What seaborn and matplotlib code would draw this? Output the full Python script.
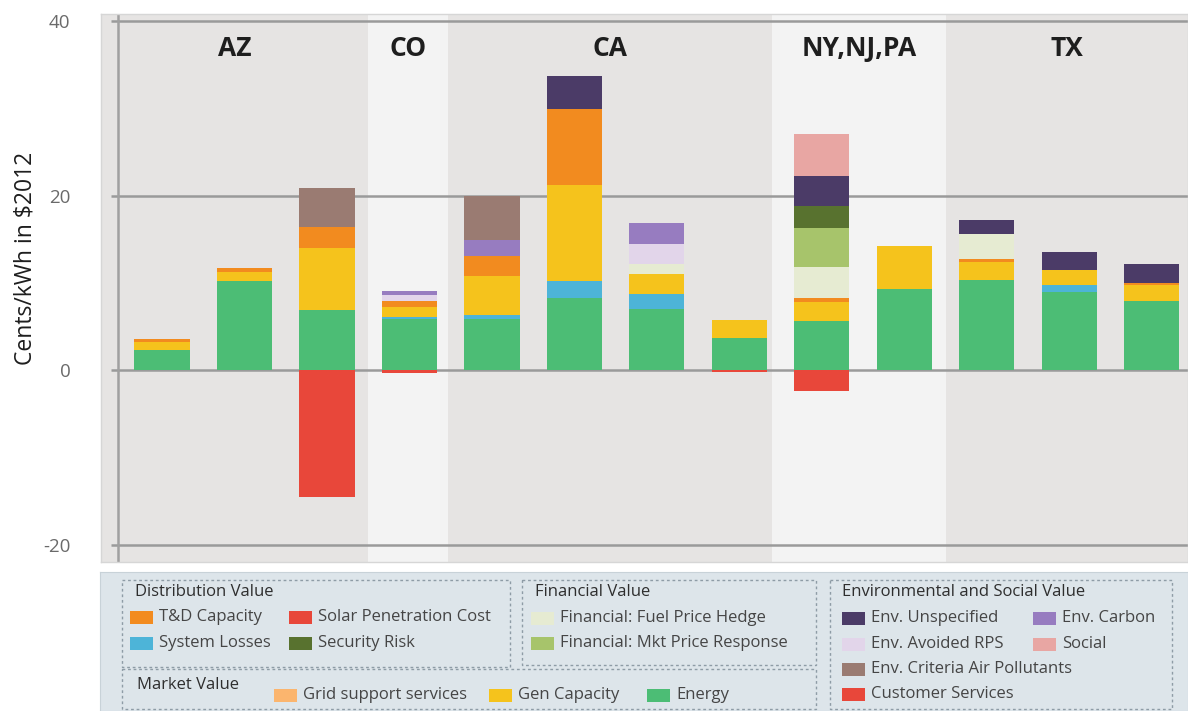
import numpy as np
import pandas as pd
import matplotlib
matplotlib.use("Agg")
import matplotlib.pyplot as plt
from matplotlib.patches import Rectangle
import seaborn as sns

# bars (one per study), grouped by state
bars = ["AZ 1", "AZ 2", "AZ 3", "CO 1", "CA 1", "CA 2", "CA 3", "CA 4",
        "NY 1", "NY 2", "TX 1", "TX 2", "TX 3"]
states = ["AZ", "CO", "CA", "NY,NJ,PA", "TX"]

# value components, cents/kWh ($2012)
energy       = [2.4, 10.2, 6.95, 5.85, 5.85, 8.3, 7.05, 3.75, 5.7, 9.35, 10.4, 8.95, 7.95]
system_loss  = [0, 0, 0, 0.25, 0.45, 1.9, 1.75, 0, 0, 0, 0, 0.9, 0]
gen_capacity = [0.9, 1.1, 7.05, 1.15, 4.5, 11.1, 2.3, 2.0, 2.2, 4.95, 2.0, 1.7, 1.8]
grid_support = [0, 0, 0, 0, 0, 0, 0, 0, 0, 0, 0, 0, 0]
td_capacity  = [0.35, 0.4, 2.4, 0.7, 2.35, 8.7, 0, 0, 0.4, 0, 0.4, 0, 0.25]
fuel_hedge   = [0, 0, 0, 0, 0, 0, 1.05, 0, 3.6, 0, 2.8, 0, 0]
mkt_price    = [0, 0, 0, 0, 0, 0, 0, 0, 4.4, 0, 0, 0, 0]
security     = [0, 0, 0, 0, 0, 0, 0, 0, 2.55, 0, 0, 0, 0]
avoided_rps  = [0, 0, 0, 0.65, 0, 0, 2.3, 0, 0, 0, 0, 0, 0]
carbon       = [0, 0, 0, 0.55, 1.85, 0, 2.4, 0, 0, 0, 0, 0, 0]
criteria     = [0, 0, 4.5, 0, 4.95, 0, 0, 0, 0, 0, 0, 0, 0]
unspecified  = [0, 0, 0, 0, 0, 3.8, 0, 0, 3.45, 0, 1.6, 2.0, 2.15]
social       = [0, 0, 0, 0, 0, 0, 0, 0, 4.8, 0, 0, 0, 0]
solar_pen    = [0, 0, -14.55, -0.25, 0, 0, 0, -0.2, 0, 0, 0, 0, 0]
customer     = [0, 0, 0, 0, 0, 0, 0, 0, -2.3, 0, 0, 0, 0]

colors = {
    "Energy": "#4cbd75",
    "System Losses": "#4db4d8",
    "Gen Capacity": "#f5c31c",
    "Grid support services": "#fbb56e",
    "T&D Capacity": "#f28b1f",
    "Financial: Fuel Price Hedge": "#e6ebd2",
    "Financial: Mkt Price Response": "#a7c46b",
    "Security Risk": "#58722f",
    "Env. Avoided RPS": "#e2d5ea",
    "Env. Carbon": "#977cc0",
    "Env. Criteria Air Pollutants": "#9a7b72",
    "Env. Unspecified": "#4b3b67",
    "Social": "#e8a6a3",
    "Solar Penetration Cost": "#e8473a",
    "Customer Services": "#e8473a",
}

df = pd.DataFrame({
    "bar": bars,
    "Energy": energy, "System Losses": system_loss, "Gen Capacity": gen_capacity,
    "Grid support services": grid_support, "T&D Capacity": td_capacity,
    "Financial: Fuel Price Hedge": fuel_hedge, "Financial: Mkt Price Response": mkt_price,
    "Security Risk": security, "Env. Avoided RPS": avoided_rps, "Env. Carbon": carbon,
    "Env. Criteria Air Pollutants": criteria, "Env. Unspecified": unspecified,
    "Social": social, "Solar Penetration Cost": solar_pen, "Customer Services": customer,
})

pos_stack = ["Energy", "System Losses", "Gen Capacity", "Grid support services",
             "T&D Capacity", "Financial: Fuel Price Hedge", "Financial: Mkt Price Response",
             "Security Risk", "Env. Avoided RPS", "Env. Carbon",
             "Env. Criteria Air Pollutants", "Env. Unspecified", "Social"]
neg_stack = ["Solar Penetration Cost", "Customer Services"]

sns.set_style("white")
plt.rcParams["font.family"] = ["Open Sans", "DejaVu Sans"]

fig = plt.figure(figsize=(11.88, 7.11), dpi=100)
ax = fig.add_axes([101 / 1188, 1 - 562 / 711, 1087 / 1188, 548 / 711])

# state background bands
edges = [-0.74, 2.5, 3.47, 7.4, 9.5, 12.44]
band_cols = ["#e6e4e3", "#f3f3f3", "#e6e4e3", "#f3f3f3", "#e6e4e3"]
for i, st in enumerate(states):
    ax.axvspan(edges[i], edges[i + 1], color=band_cols[i], zorder=0, lw=0)
    ax.text((edges[i] + edges[i + 1]) / 2, 36.9, st, ha="center", va="center",
            fontsize=19, fontweight="bold", color="#1e1e1e")

# grid lines and axis line
yt = [-20, 0, 20, 40]
ax.hlines(yt, -0.62, 12.44, color="#9a9a9a", lw=1.8, zorder=0.5)
ax.axvline(-0.53, color="#a0a0a0", lw=1.8, zorder=0.5)

# stacked bars
bottom = np.zeros(len(bars))
for comp in pos_stack:
    sns.barplot(data=df, x="bar", y=comp, order=bars, bottom=bottom.copy(),
                color=colors[comp], saturation=1, width=0.67, errorbar=None,
                linewidth=0, ax=ax, zorder=2)
    bottom += df[comp].to_numpy()
nbottom = np.zeros(len(bars))
for comp in neg_stack:
    sns.barplot(data=df, x="bar", y=comp, order=bars, bottom=nbottom.copy(),
                color=colors[comp], saturation=1, width=0.67, errorbar=None,
                linewidth=0, ax=ax, zorder=2)
    nbottom += df[comp].to_numpy()

ax.set_xlim(edges[0], edges[-1])
ax.set_ylim(-21.95, 40.85)
ax.set_xticks([])
ax.set_xlabel("")
ax.set_yticks(yt)
ax.set_yticklabels([str(v) for v in yt], fontsize=13.5, color="#6a6a6a")
ax.tick_params(axis="y", length=0, pad=22)
for s in ax.spines.values():
    s.set_color("#d6d6d6")
    s.set_linewidth(1)
ax.set_ylabel("")
fig.text(26 / 1188, 1 - 258 / 711, "Cents/kWh in $2012", rotation=90,
         ha="center", va="center", fontsize=16.5, color="#1e1e1e")

# legend panel (pixel coordinates)
lax = fig.add_axes([100 / 1188, 0, 1088 / 1188, 139 / 711])
lax.set_xlim(100, 1188)
lax.set_ylim(711, 572)
lax.set_facecolor("#dde5ea")
for s in lax.spines.values():
    s.set_color("#c8d2d8")
lax.set_xticks([])
lax.set_yticks([])

def group_box(x0, y0, x1, y1, title, tx, ty):
    lax.add_patch(Rectangle((x0, y0), x1 - x0, y1 - y0, fill=False,
                            edgecolor="#8e9ca6", lw=1, linestyle=(0, (2, 2))))
    lax.text(tx, ty, title, ha="left", va="center", fontsize=12, color="#2e2e2e")

def item(x, y, label, sw=23):
    lax.add_patch(Rectangle((x, y - 6.5), sw, 13, facecolor=colors[label],
                            edgecolor="none"))
    lax.text(x + sw + 6, y, label, ha="left", va="center", fontsize=12,
             color="#454545")

group_box(122, 580, 510, 667, "Distribution Value", 135, 592)
item(130, 617, "T&D Capacity")
item(289, 617, "Solar Penetration Cost")
item(130, 643, "System Losses")
item(289, 643, "Security Risk")

group_box(522, 580, 816, 665, "Financial Value", 535, 592)
item(531, 618, "Financial: Fuel Price Hedge")
item(531, 643, "Financial: Mkt Price Response")

group_box(122, 669, 816, 709, "Market Value", 137, 685)
item(274, 695, "Grid support services")
item(489, 695, "Gen Capacity")
item(647, 695, "Energy")

group_box(830, 580, 1172, 709, "Environmental and Social Value", 842, 592)
item(842, 618, "Env. Unspecified")
item(1033, 618, "Env. Carbon")
item(842, 644, "Env. Avoided RPS")
item(1033, 644, "Social")
item(842, 669, "Env. Criteria Air Pollutants")
item(842, 694, "Customer Services")

fig.savefig("out.png", dpi=100, facecolor="white")
